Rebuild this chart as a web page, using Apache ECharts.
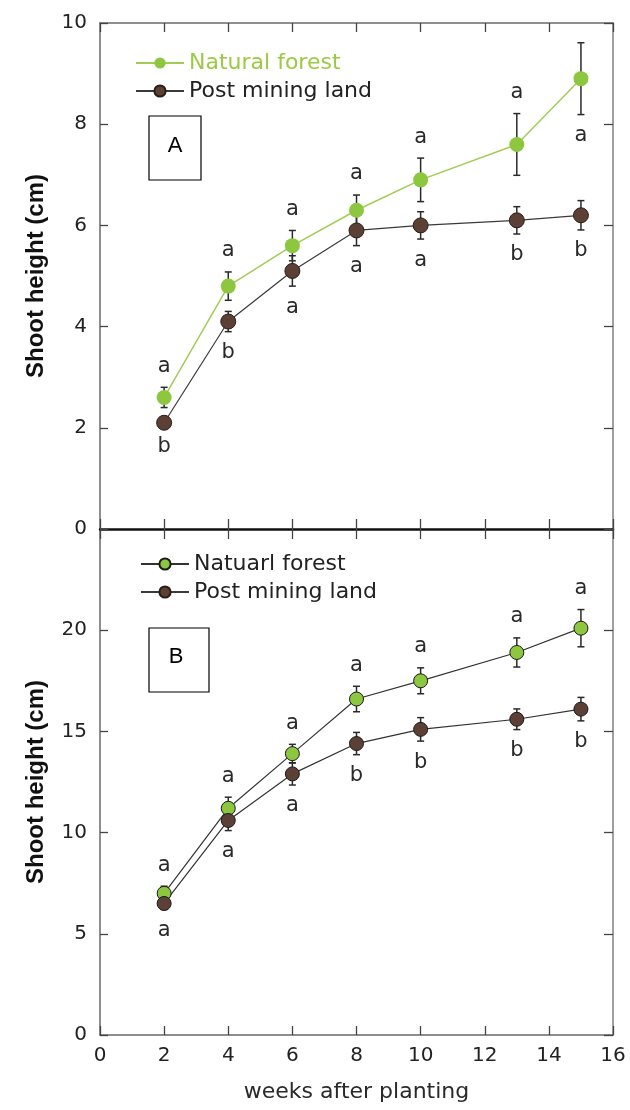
<!DOCTYPE html>
<html><head><meta charset="utf-8">
<script src="https://cdn.jsdelivr.net/npm/echarts@6/dist/echarts.min.js"></script>
<style>html,body{margin:0;padding:0;background:#fff}#c{width:630px;height:1110px}</style>
</head><body><div id="c"></div>
<script>
// ---- data ----
const weeks = [2, 4, 6, 8, 10, 13, 15];
const xTicks = [0, 2, 4, 6, 8, 10, 12, 14, 16];
const yTicksA = [0, 2, 4, 6, 8, 10];
const yTicksB = [0, 5, 10, 15, 20];

const A_natural = [2.6, 4.8, 5.6, 6.3, 6.9, 7.6, 8.9];
const A_naturalErr = [0.2, 0.28, 0.3, 0.3, 0.43, 0.61, 0.71];
const A_post = [2.1, 4.1, 5.1, 5.9, 6.0, 6.1, 6.2];
const A_postErr = [0.05, 0.2, 0.3, 0.3, 0.27, 0.27, 0.29];
const A_naturalLetters = ['a', 'a', 'a', 'a', 'a', 'a', 'a'];
const A_naturalLetterSide = ['above', 'above', 'above', 'above', 'above', 'above', 'below'];
const A_postLetters = ['b', 'b', 'a', 'a', 'a', 'b', 'b'];
const A_postLetterSide = ['below', 'below', 'below', 'below', 'below', 'below', 'below'];

const B_natural = [7.0, 11.2, 13.9, 16.6, 17.5, 18.9, 20.1];
const B_naturalErr = [0.35, 0.55, 0.46, 0.63, 0.64, 0.72, 0.92];
const B_post = [6.5, 10.6, 12.9, 14.4, 15.1, 15.6, 16.1];
const B_postErr = [0.3, 0.5, 0.55, 0.55, 0.58, 0.51, 0.58];
const B_naturalLetters = ['a', 'a', 'a', 'a', 'a', 'a', 'a'];
const B_naturalLetterSide = ['above', 'above', 'above', 'above', 'above', 'above', 'above'];
const B_postLetters = ['a', 'a', 'a', 'b', 'b', 'b', 'b'];
const B_postLetterSide = ['below', 'below', 'below', 'below', 'below', 'below', 'below'];

const nameA1 = 'Natural forest';
const nameB1 = 'Natuarl forest';
const namePost = 'Post mining land';
const yTitle = 'Shoot height (cm)';
const xTitle = 'weeks after planting';

// ---- style ----
const GREEN = '#8dc63f';
const BROWN = '#5c4036';
const TXT = 'DejaVu Sans';

const pts = (vals) => weeks.map((w, i) => [w, vals[i]]);
const ptsErr = (vals, errs) => weeks.map((w, i) => [w, vals[i], errs[i]]);

function errSeries(vals, errs, xi, yi, color) {
  return {
    type: 'custom', xAxisIndex: xi, yAxisIndex: yi, z: 2, clip: false, silent: true,
    encode: { x: 0, y: 1 },
    data: ptsErr(vals, errs),
    renderItem: function (params, api) {
      const x = api.value(0), y = api.value(1), e = api.value(2);
      const t = api.coord([x, y + e]), b = api.coord([x, y - e]);
      const hw = 3.5;
      const st = { stroke: color, lineWidth: 1.5 };
      return { type: 'group', children: [
        { type: 'line', shape: { x1: t[0], y1: t[1], x2: b[0], y2: b[1] }, style: st },
        { type: 'line', shape: { x1: t[0] - hw, y1: t[1], x2: t[0] + hw, y2: t[1] }, style: st },
        { type: 'line', shape: { x1: b[0] - hw, y1: b[1], x2: b[0] + hw, y2: b[1] }, style: st }
      ] };
    }
  };
}

function letterSeries(vals, errs, letters, sides, xi, yi) {
  return {
    type: 'custom', xAxisIndex: xi, yAxisIndex: yi, z: 5, clip: false, silent: true,
    encode: { x: 0, y: 1 },
    data: ptsErr(vals, errs),
    renderItem: function (params, api) {
      const i = params.dataIndex;
      const x = api.value(0), y = api.value(1), e = api.value(2);
      const above = sides[i] === 'above';
      const p = api.coord([x, above ? y + e : y - e]);
      return {
        type: 'text', x: p[0], y: p[1] + (above ? -21 : 21),
        style: { text: letters[i], fill: '#2a2a2a', fontSize: 21, fontFamily: TXT, align: 'center', verticalAlign: 'middle' }
      };
    }
  };
}

function lineSeries(name, vals, xi, yi, mColor, mBorder, lColor, lWidth, size) {
  return {
    name: name, type: 'line', xAxisIndex: xi, yAxisIndex: yi, z: 3,
    data: pts(vals), symbol: 'circle', symbolSize: size, showSymbol: true,
    itemStyle: { color: mColor, borderColor: mBorder, borderWidth: mBorder ? 1 : 0, opacity: 1 },
    lineStyle: { color: lColor, width: lWidth },
    emphasis: { disabled: true }, animation: false
  };
}

const frame = '#6a6a6a';
const tickStyle = { color: '#444', width: 1.3 };
const yNameStyle = { color: '#111', fontSize: 24, fontWeight: 'bold', fontFamily: 'Liberation Sans' };

const option = {
  animation: false,
  backgroundColor: '#fff',
  grid: [
    { left: 100, right: 17, top: 23, height: 506 },
    { left: 100, right: 17, top: 529, height: 506 }
  ],
  xAxis: [
    { gridIndex: 0, type: 'value', min: 0, max: 16, interval: 2, position: 'bottom',
      axisLine: { onZero: false, lineStyle: { color: '#111', width: 2.5 } },
      axisTick: { inside: true, length: 10, lineStyle: tickStyle },
      axisLabel: { show: false }, splitLine: { show: false } },
    { gridIndex: 0, type: 'value', min: 0, max: 16, interval: 2, position: 'top',
      axisLine: { onZero: false, lineStyle: { color: frame, width: 1.5 } },
      axisTick: { inside: true, length: 9, lineStyle: tickStyle },
      axisLabel: { show: false }, splitLine: { show: false } },
    { gridIndex: 1, type: 'value', min: 0, max: 16, interval: 2, position: 'bottom',
      axisLine: { onZero: false, lineStyle: { color: frame, width: 1.5 } },
      axisTick: { inside: true, length: 9, lineStyle: tickStyle },
      axisLabel: { color: '#222', fontSize: 20, fontFamily: TXT, margin: 11,
        formatter: (v) => xTicks.includes(v) ? String(v) : '' },
      splitLine: { show: false },
      name: xTitle, nameLocation: 'middle', nameGap: 46,
      nameTextStyle: { color: '#2a2a2a', fontSize: 22, fontFamily: TXT } },
    { gridIndex: 1, type: 'value', min: 0, max: 16, interval: 2, position: 'top',
      axisLine: { onZero: false, show: false },
      axisTick: { show: true, inside: true, length: 10, lineStyle: tickStyle },
      axisLabel: { show: false }, splitLine: { show: false } }
  ],
  yAxis: [
    { gridIndex: 0, type: 'value', min: 0, max: 10, interval: 2, position: 'left',
      axisLine: { onZero: false, show: true, lineStyle: { color: frame, width: 1.5 } },
      axisTick: { show: true, inside: true, length: 8, lineStyle: tickStyle },
      axisLabel: { color: '#222', fontSize: 20, fontFamily: TXT, margin: 13,
        formatter: (v) => yTicksA.includes(v) ? String(v) : '' },
      splitLine: { show: false },
      name: yTitle, nameLocation: 'middle', nameGap: 52, nameRotate: 90,
      nameTextStyle: yNameStyle },
    { gridIndex: 0, type: 'value', min: 0, max: 10, interval: 2, position: 'right',
      axisLine: { onZero: false, show: true, lineStyle: { color: '#a0a0a0', width: 2 } },
      axisTick: { show: true, inside: true, length: 9, lineStyle: tickStyle },
      axisLabel: { show: false }, splitLine: { show: false } },
    { gridIndex: 1, type: 'value', min: 0, max: 25, interval: 5, position: 'left',
      axisLine: { onZero: false, show: true, lineStyle: { color: frame, width: 1.5 } },
      axisTick: { show: true, inside: true, length: 8, lineStyle: tickStyle },
      axisLabel: { color: '#222', fontSize: 20, fontFamily: TXT, margin: 13,
        formatter: (v) => yTicksB.includes(v) ? String(v) : '' },
      splitLine: { show: false },
      name: yTitle, nameLocation: 'middle', nameGap: 52, nameRotate: 90,
      nameTextStyle: yNameStyle },
    { gridIndex: 1, type: 'value', min: 0, max: 25, interval: 5, position: 'right',
      axisLine: { onZero: false, show: true, lineStyle: { color: '#a0a0a0', width: 2 } },
      axisTick: { show: true, inside: true, length: 9, lineStyle: tickStyle },
      axisLabel: { show: false }, splitLine: { show: false } }
  ],
  legend: [
    { orient: 'vertical', left: 130, top: 47, itemWidth: 48, itemHeight: 14, itemGap: 6,
      selectedMode: false,
      data: [
        { name: nameA1, textStyle: { color: '#9cca45' } },
        { name: namePost, textStyle: { color: '#222' } }
      ],
      textStyle: { fontSize: 22, fontFamily: TXT, lineHeight: 22 } },
    { orient: 'vertical', left: 135, top: 548, itemWidth: 48, itemHeight: 14, itemGap: 6,
      selectedMode: false,
      data: [
        { name: nameB1, textStyle: { color: '#222' } },
        { name: namePost, textStyle: { color: '#222' } }
      ],
      textStyle: { fontSize: 22, fontFamily: TXT, lineHeight: 22 } }
  ],
  graphic: [
    { type: 'rect', shape: { x: 149, y: 116, width: 52, height: 64 }, style: { fill: '#fff', stroke: '#000', lineWidth: 1.2 } },
    { type: 'text', x: 175, y: 146, style: { text: 'A', fill: '#000', fontSize: 22, fontFamily: 'Liberation Sans', align: 'center', verticalAlign: 'middle' } },
    { type: 'rect', shape: { x: 149, y: 628, width: 60, height: 64 }, style: { fill: '#fff', stroke: '#000', lineWidth: 1.2 } },
    { type: 'text', x: 176, y: 657, style: { text: 'B', fill: '#000', fontSize: 22, fontFamily: 'Liberation Sans', align: 'center', verticalAlign: 'middle' } }
  ],
  series: [
    errSeries(A_natural, A_naturalErr, 0, 0, '#2a2a2a'),
    errSeries(A_post, A_postErr, 0, 0, '#2a2a2a'),
    lineSeries(nameA1, A_natural, 0, 0, GREEN, null, '#a2cc55', 1.5, 15),
    lineSeries(namePost, A_post, 0, 0, BROWN, '#2b1d18', '#3a3a3a', 1.2, 15),
    letterSeries(A_natural, A_naturalErr, A_naturalLetters, A_naturalLetterSide, 0, 0),
    letterSeries(A_post, A_postErr, A_postLetters, A_postLetterSide, 0, 0),

    errSeries(B_natural, B_naturalErr, 2, 2, '#2a2a2a'),
    errSeries(B_post, B_postErr, 2, 2, '#2a2a2a'),
    lineSeries(nameB1, B_natural, 2, 2, GREEN, '#1a1a1a', '#333', 1.2, 14),
    lineSeries(namePost, B_post, 2, 2, BROWN, '#1a1a1a', '#333', 1.2, 14),
    letterSeries(B_natural, B_naturalErr, B_naturalLetters, B_naturalLetterSide, 2, 2),
    letterSeries(B_post, B_postErr, B_postLetters, B_postLetterSide, 2, 2)
  ]
};

const chart = echarts.init(document.getElementById('c'), null, { renderer: 'canvas' });
chart.setOption(option);
</script>
</body></html>
